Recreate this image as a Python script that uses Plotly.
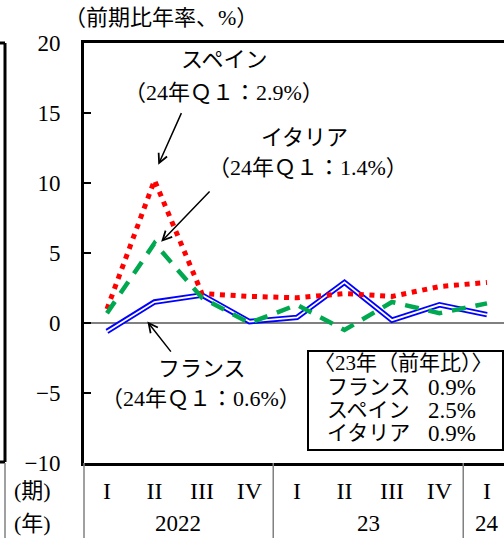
import plotly.graph_objects as go

# 期（四半期）と年
periods = ["22Q1", "22Q2", "22Q3", "22Q4", "23Q1", "23Q2", "23Q3", "23Q4", "24Q1"]
quarter_labels = ["I", "II", "III", "IV", "I", "II", "III", "IV", "I"]
period_years = ["2022", "2022", "2022", "2022", "23", "23", "23", "23", "24"]

# 実質GDP成長率（前期比年率、%）
france = [-0.6, 1.5, 2.0, 0.1, 0.4, 2.9, 0.2, 1.3, 0.6]
spain = [1.0, 10.2, 2.1, 1.9, 1.8, 2.1, 1.9, 2.6, 2.9]
italy = [0.7, 5.7, 1.8, 0.0, 1.3, -0.5, 1.5, 0.7, 1.4]

# 23年（前年比）
countries = ["フランス", "スペイン", "イタリア"]
annual_2023 = [0.9, 2.5, 0.9]

y_ticks = [-10, -5, 0, 5, 10, 15, 20]

FONT = "Liberation Serif, Noto Sans CJK JP"
GRAY = "#808080"

# 画面ピクセル -> paper 座標
L, T, W, H = 84, 43, 420, 420


def px(x):
    return (x - L) / W


def py(y):
    return (T + H - y) / H


fig = go.Figure()

# フランス（二重線）
fig.add_trace(go.Scatter(x=periods, y=france, mode="lines",
                         line=dict(color="#0000FF", width=5.5)))
fig.add_trace(go.Scatter(x=periods, y=france, mode="lines",
                         line=dict(color="white", width=1.8)))
# スペイン（点線）
fig.add_trace(go.Scatter(x=periods, y=spain, mode="lines",
                         line=dict(color="#FF0000", width=5, dash="5px,5.7px")))
# イタリア（破線）
fig.add_trace(go.Scatter(x=periods, y=italy, mode="lines",
                         line=dict(color="#00A850", width=4.5, dash="14px,10px")))

annotations = []


def label(text, x, y, anchor="center", size=22):
    annotations.append(dict(text=text, x=px(x), y=py(y), xref="paper", yref="paper",
                            xanchor=anchor, yanchor="middle", showarrow=False,
                            font=dict(size=size)))


def arrow(x, y, ax, ay):
    annotations.append(dict(text="", x=x, y=y, ax=ax, ay=ay, xref="x", yref="y",
                            axref="x", ayref="y", showarrow=True, arrowhead=5,
                            arrowsize=1.2, arrowwidth=1.5, arrowcolor="black",
                            standoff=0))


label("（前期比年率、%）", 161, 17)

label("スペイン", 224, 60)
label(f"（24年Ｑ１：{spain[-1]:.1f}%）", 224, 92)
arrow(1.08, 11.3, 1.58, 15.1)

label("イタリア", 304, 137)
label(f"（24年Ｑ１：{italy[-1]:.1f}%）", 308, 167)
arrow(1.14, 5.8, 2.19, 9.5)

label("フランス", 202, 368)
label(f"（24年Ｑ１：{france[-1]:.1f}%）", 201, 398)
arrow(0.85, 0.1, 1.37, -2.15)

# 23年（前年比）の枠
label("〈23年（前年比）〉", 312, 363, anchor="left", size=21)
for i, (c, v) in enumerate(zip(countries, annual_2023)):
    label(c, 325, 387 + 23 * i, anchor="left", size=21)
    label(f"{v:.1f}%", 426, 387 + 23 * i, anchor="left", size=23)

# 表の行見出し
label("(期)", 32, 490)
label("(年)", 32, 523)

# 年ラベル（各年の期の中央）
for yr in dict.fromkeys(period_years):
    idx = [i for i, p in enumerate(period_years) if p == yr]
    annotations.append(dict(text=yr, x=sum(idx) / len(idx), y=py(523), xref="x",
                            yref="paper", xanchor="center", yanchor="middle",
                            showarrow=False, font=dict(size=23)))

shapes = [
    dict(type="rect", xref="paper", yref="paper", x0=px(308), x1=px(503),
         y0=py(450), y1=py(351), line=dict(color="black", width=2),
         fillcolor="white", layer="above"),
    # 左側パネルの枠
    dict(type="line", xref="paper", yref="paper", x0=px(5), x1=px(5),
         y0=py(43), y1=py(462), line=dict(color="black", width=3)),
    dict(type="line", xref="paper", yref="paper", x0=px(0), x1=px(5),
         y0=py(43), y1=py(43), line=dict(color="black", width=3)),
    dict(type="line", xref="paper", yref="paper", x0=px(0), x1=px(5),
         y0=py(462), y1=py(462), line=dict(color="black", width=3)),
    # 表の縦線
    dict(type="line", xref="paper", yref="paper", x0=px(5), x1=px(5),
         y0=py(463), y1=py(538), line=dict(color=GRAY, width=1.5)),
    dict(type="line", xref="paper", yref="paper", x0=px(84), x1=px(84),
         y0=py(463), y1=py(538), line=dict(color=GRAY, width=1.5)),
]
# 年の区切り
for i in range(1, len(period_years)):
    if period_years[i] != period_years[i - 1]:
        shapes.append(dict(type="line", xref="x", yref="paper", x0=i - 0.5, x1=i - 0.5,
                           y0=py(463), y1=py(538), line=dict(color=GRAY, width=1.5)))

fig.update_layout(
    width=504, height=538,
    margin=dict(l=L, r=0, t=T, b=538 - T - H),
    paper_bgcolor="white", plot_bgcolor="white",
    showlegend=False,
    font=dict(family=FONT, size=22, color="black"),
    xaxis=dict(type="category", range=[-0.484, 8.358], showline=True, linewidth=3,
               linecolor="black", mirror=True, ticks="", tickvals=periods,
               ticktext=quarter_labels, tickfont=dict(size=24),
               ticklabelstandoff=4, showgrid=False, zeroline=False),
    yaxis=dict(range=[-10, 20], tickvals=y_ticks, showline=True, linewidth=3,
               linecolor="black", ticks="inside", ticklen=7, tickwidth=1.5,
               tickcolor="black", showgrid=False, zeroline=True,
               zerolinecolor=GRAY, zerolinewidth=2, tickfont=dict(size=23),
               ticklabelstandoff=16),
    annotations=annotations,
    shapes=shapes,
)

fig.write_html("out.html", config={"displayModeBar": False},
               post_script="document.body.style.margin='0';"
                           "document.body.style.overflow='hidden';")
